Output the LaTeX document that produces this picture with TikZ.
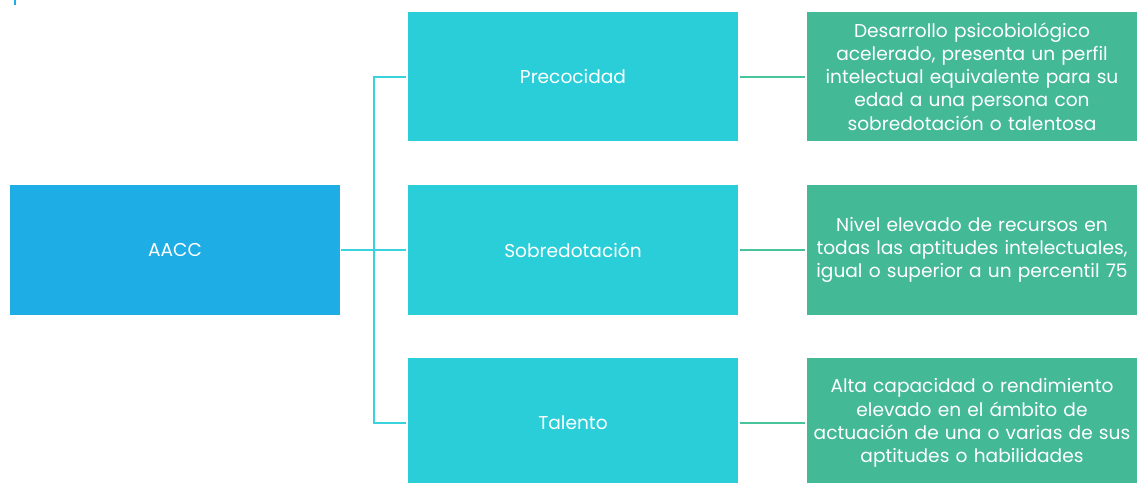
\documentclass[tikz,border=0pt]{standalone}
\usepackage{fontspec}
\setmainfont{Poppins}
\definecolor{cblue}{HTML}{1EADE4}
\definecolor{ccyan}{HTML}{29CED8}
\definecolor{cgreen}{HTML}{43B995}
\definecolor{clink}{HTML}{3AD2DC}
\definecolor{cglink}{HTML}{48C49C}
\begin{document}
\begin{tikzpicture}[x=1pt,y=-1pt,
  box/.style={rectangle,draw=none,minimum width=330pt,minimum height=130pt,inner sep=0pt,
    text=white,font=\fontsize{18.6}{23.2}\selectfont,align=center,text width=326pt},
  rootbox/.style={box,fill=cblue},
  midbox/.style={box,fill=ccyan},
  descbox/.style={box,fill=cgreen},
  link/.style={draw=clink,line width=2pt},
  glink/.style={draw=cglink,line width=2pt}]
\useasboundingbox (0,0) rectangle (1137,482);
\fill[cblue] (14,0) rectangle (16,5);
\node[rootbox] (aacc) at (175,250) {AACC};
\node[midbox,minimum height=129pt] (m1) at (573,76.5) {Precocidad};
\node[midbox] (m2) at (573,250) {Sobredotación};
\node[midbox] (m3) at (573,423) {Talento};
\node[descbox,minimum height=129pt] (d1) at (972,76.5) {Desarrollo psicobiológico\\acelerado, presenta un perfil\\intelectual equivalente para su\\edad a una persona con\\sobredotación o talentosa};
\node[descbox] (d2) at (972,250) {Nivel elevado de recursos en\\todas las aptitudes intelectuales,\\igual o superior a un percentil 75};
\node[descbox] (d3) at (972,423) {Alta capacidad o rendimiento\\elevado en el ámbito de\\actuación de una o varias de sus\\aptitudes o habilidades};
\coordinate (j) at (374,250);
\draw[link] ([xshift=1pt]aacc.east) -- ([xshift=-2pt]m2.west);
\draw[link] (j) |- ([xshift=-2pt]m1.west);
\draw[link] (j) |- ([xshift=-2pt]m3.west);
\draw[glink] ([xshift=2pt]m1.east) -- ([xshift=-2pt]d1.west);
\draw[glink] ([xshift=2pt]m2.east) -- ([xshift=-2pt]d2.west);
\draw[glink] ([xshift=2pt]m3.east) -- ([xshift=-2pt]d3.west);
\end{tikzpicture}
\end{document}
